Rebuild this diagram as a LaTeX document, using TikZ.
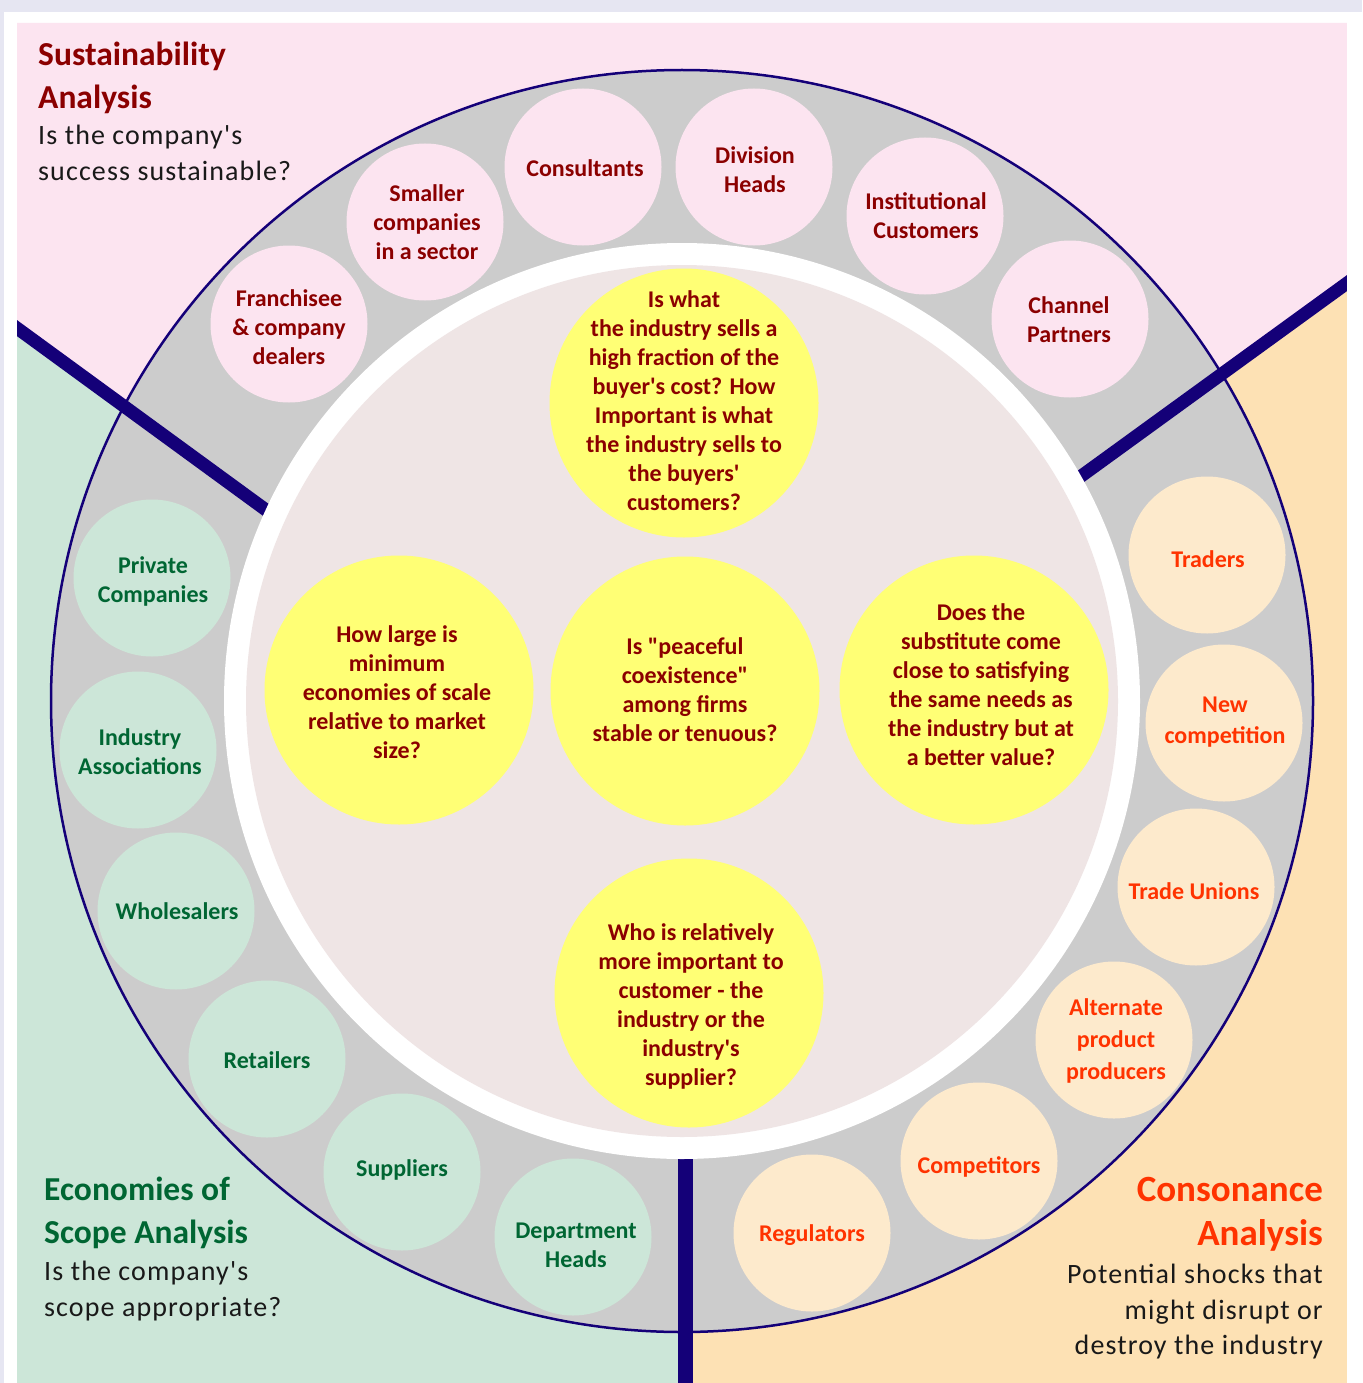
\documentclass[tikz,border=0pt]{standalone}
\usepackage{fontspec}
\setmainfont{Carlito}[Ligatures=TeXOff]
\usetikzlibrary{calc}

\definecolor{framebg}{HTML}{E6E6F2}
\definecolor{pinkbg}{HTML}{FCE4F0}
\definecolor{greenbg}{HTML}{CCE6D8}
\definecolor{orangebg}{HTML}{FDE1B4}
\definecolor{orangedot}{HTML}{FDEACC}
\definecolor{ringgray}{HTML}{CCCCCC}
\definecolor{innerbg}{HTML}{EFE5E5}
\definecolor{qyellow}{HTML}{FFFF75}
\definecolor{navy}{HTML}{140078}
\definecolor{darkred}{HTML}{8B0000}
\definecolor{darkgreen}{HTML}{006633}
\definecolor{hotorange}{HTML}{FF3300}

\tikzset{
  bub/.style={circle, minimum size=157pt, inner sep=0pt},
  pinkbub/.style={bub, fill=pinkbg},
  greenbub/.style={bub, fill=greenbg},
  orangebub/.style={bub, fill=orangedot},
  lbl/.style={align=center, inner sep=0pt, font=\bfseries\fontsize{24}{29}\selectfont},
  redlbl/.style={lbl, text=darkred},
  greenlbl/.style={lbl, text=darkgreen},
  orangelbl/.style={lbl, text=hotorange},
  qbub/.style={circle, minimum size=269pt, inner sep=0pt, fill=qyellow},
  qtext/.style={lbl, text=darkred},
  divider/.style={draw=navy, line width=13pt},
  title/.style={inner sep=0pt, font=\bfseries\fontsize{33.5}{43}\selectfont},
  sub/.style={inner sep=0pt, text=black!90, font=\fontsize{28}{35.5}\selectfont\addfontfeature{LetterSpace=4}},
}

\begin{document}
\begin{tikzpicture}[x=1pt,y=-1pt]
\useasboundingbox (0,0) rectangle (1362,1383);
% page frame
\fill[white] (0,0) rectangle (1362,1383);
\fill[framebg] (0,0) rectangle (1362,12);
\fill[framebg] (0,0) rectangle (4,1383);

% end points of the three dividers
\coordinate (hub) at (685,700);
\coordinate (lo) at (10,323);
\coordinate (li) at (303,537);
\coordinate (ro) at (1354,278);
\coordinate (ri) at (1040,506);
\coordinate (bo) at (685,1383);
\coordinate (bi) at (685,1100);

% three coloured panels
\fill[pinkbg] (17,23) -- (1347,23) -- (ro) -- (ri) -- (hub) -- (li) -- (lo) -- cycle;
\fill[greenbg] (lo) -- (li) -- (hub) -- (bo) -- (17,1383) -- cycle;
\fill[orangebg] (ro) -- (ri) -- (hub) -- (bo) -- (1347,1383) -- cycle;

% grey ring
\filldraw[fill=ringgray, draw=navy, line width=2.5pt] (682,701) circle [radius=631];

% dividers, cut at the panel edges
\begin{scope}
\clip (17,23) rectangle (1347,1383);
\draw[divider] (lo) -- (li);
\draw[divider] (ro) -- (ri);
\draw[divider, line width=15pt] (bo) -- (bi);
\end{scope}
% white margin outside the panels
\fill[white] (4,12) rectangle (17,1383);
\fill[white] (1347,12) rectangle (1362,1383);

% white band and central disc
\fill[white] (682,701) circle [radius=458];
\fill[innerbg] (682,701) circle [radius=436];

% key questions
\node[qbub] (qt) at (684,403) {};
\node[qbub] (qm) at (685,691) {};
\node[qbub] (ql) at (399,690) {};
\node[qbub] (qr) at (974,690) {};
\node[qbub] (qb) at (689,993) {};
\node[qtext] (qt-t) at (684,401) {Is what\\the industry sells a\\high fraction of the\\buyer's cost? How\\Important is what\\the industry sells to\\the buyers'\\customers?};
\node[qtext] (qm-t) at (685,690) {Is "peaceful\\coexistence"\\among firms\\stable or tenuous?};
\node[qtext] (ql-t) at (397,692) {How large is\\minimum\\economies of scale\\relative to market\\size?};
\node[qtext] (qr-t) at (981,685) {Does the\\substitute come\\close to satisfying\\the same needs as\\the industry but at\\a better value?};
\node[qtext] (qb-t) at (691,1006) {Who is relatively\\more important to\\customer - the\\industry or the\\industry's\\supplier?};

% sustainability stakeholders
\node[pinkbub] (fr) at (289,324) {};
\node[pinkbub] (sm) at (425,222) {};
\node[pinkbub] (co) at (583,167) {};
\node[pinkbub] (dh) at (754,167) {};
\node[pinkbub] (ic) at (925,216) {};
\node[pinkbub] (cp) at (1070,319) {};
\node[redlbl] (fr-t) at (289,327) {Franchisee\\\& company\\dealers};
\node[redlbl] (sm-t) at (427,222) {Smaller\\companies\\in a sector};
\node[redlbl] (co-t) at (585,168) {Consultants};
\node[redlbl] (dh-t) at (755,170) {Division\\Heads};
\node[redlbl] (ic-t) at (926,216) {Institutional\\Customers};
\node[redlbl] (cp-t) at (1069,320) {Channel\\Partners};

% consonance stakeholders
\node[orangebub] (tr) at (1207,555) {};
\node[orangebub] (nc) at (1224,723) {};
\node[orangebub] (tu) at (1196,887) {};
\node[orangebub] (ap) at (1114,1040) {};
\node[orangebub] (cm) at (979,1161) {};
\node[orangebub] (rg) at (812,1233) {};
\node[orangelbl] (tr-t) at (1208,559) {Traders};
\node[orangelbl, font=\bfseries\fontsize{24}{31}\selectfont] (nc-t) at (1225,722) {New\\competition};
\node[orangelbl] (tu-t) at (1194,891) {Trade Unions};
\node[orangelbl, font=\bfseries\fontsize{24}{32}\selectfont] (ap-t) at (1116,1041) {Alternate\\product\\producers};
\node[orangelbl] (cm-t) at (979,1167) {Competitors};
\node[orangelbl] (rg-t) at (812,1235) {Regulators};

% economies of scope stakeholders
\node[greenbub] (pc) at (152,578) {};
\node[greenbub] (ia) at (138,750) {};
\node[greenbub] (wh) at (176,911) {};
\node[greenbub] (rt) at (267,1059) {};
\node[greenbub] (su) at (402,1172) {};
\node[greenbub] (dp) at (573,1237) {};
\node[greenlbl] (pc-t) at (153,581) {Private\\Companies};
\node[greenlbl] (ia-t) at (140,752) {Industry\\Associations};
\node[greenlbl] (wh-t) at (177,911) {Wholesalers};
\node[greenlbl] (rt-t) at (267,1060) {Retailers};
\node[greenlbl] (su-t) at (402,1170) {Suppliers};
\node[greenlbl] (dp-t) at (576,1245) {Department\\Heads};

% corner headings
\node[title, text=darkred, align=left, anchor=north west] (sa) at (38,42) {Sustainability\\Analysis};
\node[sub, align=left, anchor=north west] (sa-q) at (38,125) {Is the company's\\success sustainable?};
\node[title, text=darkgreen, align=left, anchor=north west] (es) at (44,1177) {Economies of\\Scope Analysis};
\node[sub, align=left, anchor=north west] (es-q) at (44,1261) {Is the company's\\scope appropriate?};
\node[title, text=hotorange, align=right, anchor=north east, font=\bfseries\fontsize{37}{44.5}\selectfont] (ca) at (1323,1177) {Consonance\\Analysis};
\node[sub, align=right, anchor=north east] (ca-q) at (1323,1264) {Potential shocks that\\might disrupt or\\destroy the industry};
\end{tikzpicture}
\end{document}
